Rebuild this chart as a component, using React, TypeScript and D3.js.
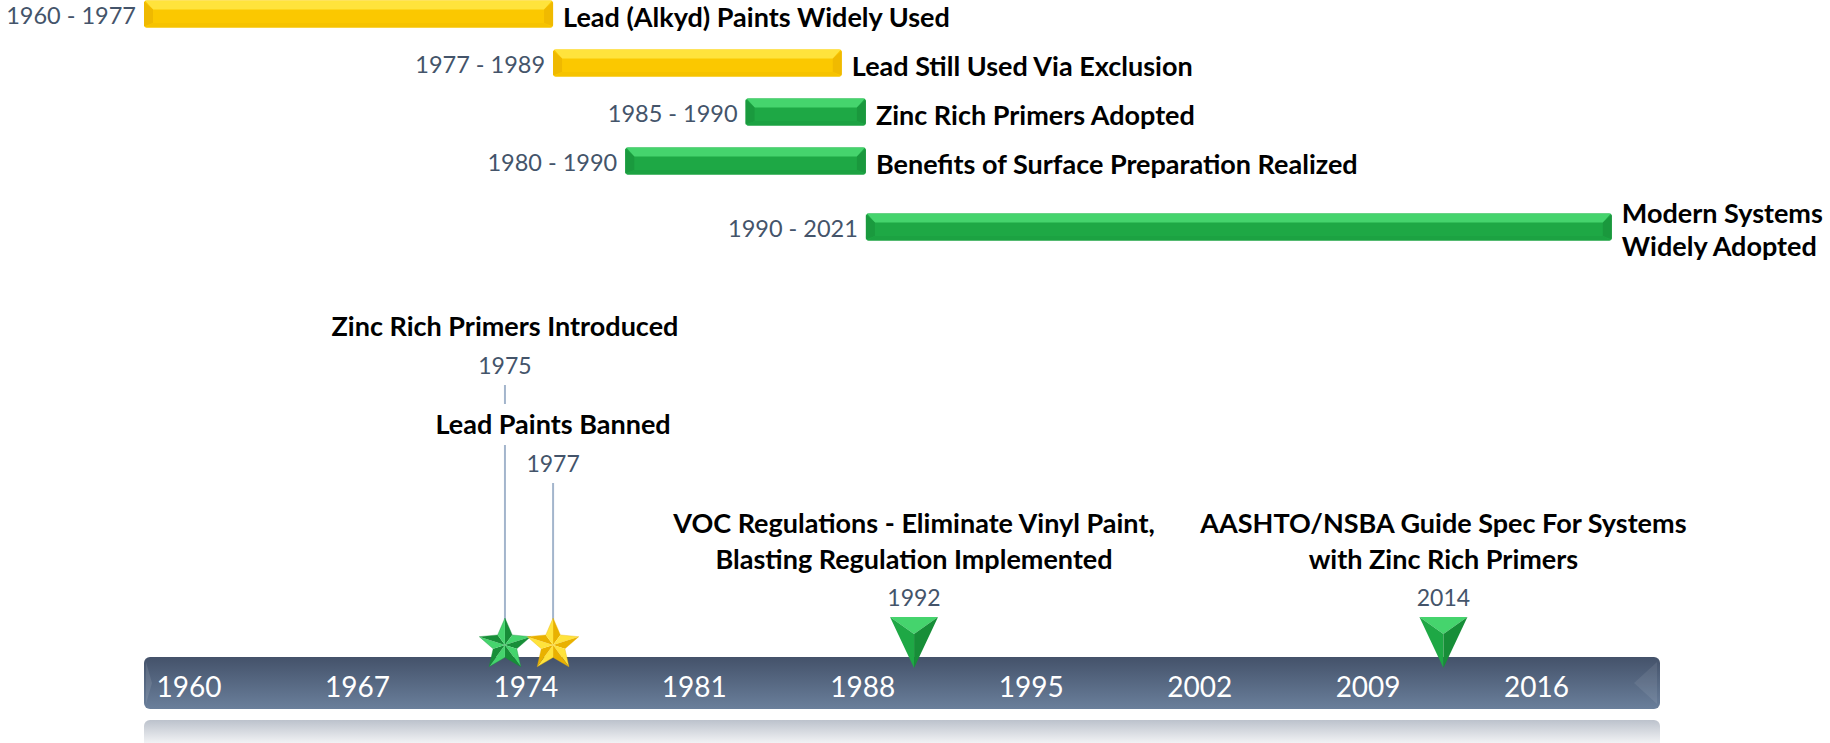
import React from 'react';
import * as d3 from 'd3';

// periods (bars across the top)
const periodLabels = [
  'Lead (Alkyd) Paints Widely Used',
  'Lead Still Used Via Exclusion',
  'Zinc Rich Primers Adopted',
  'Benefits of Surface Preparation Realized',
  'Modern Systems\nWidely Adopted',
];
const periodStarts = [1960, 1977, 1985, 1980, 1990];
const periodEnds = [1977, 1989, 1990, 1990, 2021];
const periodKinds = ['lead', 'lead', 'zinc', 'zinc', 'zinc'];

// single-year milestones on the axis
const eventYears = [1975, 1977, 1992, 2014];
const eventLabels = [
  'Zinc Rich Primers Introduced',
  'Lead Paints Banned',
  'VOC Regulations - Eliminate Vinyl Paint,\nBlasting Regulation Implemented',
  'AASHTO/NSBA Guide Spec For Systems\nwith Zinc Rich Primers',
];
const eventMarkers = ['star', 'star', 'triangle', 'triangle'];
const eventKinds = ['zinc', 'lead', 'zinc', 'zinc'];

const axisYears = [1960, 1967, 1974, 1981, 1988, 1995, 2002, 2009, 2016];

const W = 1830;
const H = 743;
const FONT = "Lato, 'Open Sans', sans-serif";
const SLATE = '#44546a';

const palette: Record<string, { light: string; main: string; side: string; low: string; dark: string }> = {
  lead: { light: '#ffe33c', main: '#fbc800', side: '#efb900', low: '#f6c300', dark: '#e9b100' },
  zinc: { light: '#45d46d', main: '#1ea845', side: '#1a9a3e', low: '#1ca242', dark: '#178e38' },
};

const x = d3.scaleLinear().domain([1960, 2023]).range([144, 1660]);

const BAR_H = 27;
const AXIS_Y = 657;
const AXIS_H = 52;
const TITLE_SIZE = 27;

const pts = (p: number[][]) => p.map((d) => d.join(',')).join(' ');

function BevelBar({ x0, x1, y, kind }: { x0: number; x1: number; y: number; kind: string }) {
  const c = palette[kind];
  const y0 = y;
  const y1 = y + BAR_H;
  const b = 9;
  return (
    <g>
      <rect x={x0} y={y0} width={x1 - x0} height={BAR_H} rx={3} fill={c.main} />
      <polygon points={pts([[x0 + 1, y0], [x1 - 1, y0], [x1 - b, y0 + b], [x0 + b, y0 + b]])} fill={c.light} />
      <polygon points={pts([[x0, y0 + 1], [x0 + b, y0 + b], [x0 + b, y1 - b / 2], [x0, y1 - 1]])} fill={c.side} />
      <polygon points={pts([[x1, y0 + 1], [x1 - b, y0 + b], [x1 - b, y1 - b / 2], [x1, y1 - 1]])} fill={c.dark} opacity={0.6} />
      <polygon points={pts([[x0 + 1, y1], [x0 + b, y1 - b / 2], [x1 - b, y1 - b / 2], [x1 - 1, y1]])} fill={c.low} />
    </g>
  );
}

function Star({ cx, cy, r, kind }: { cx: number; cy: number; r: number; kind: string }) {
  const c = palette[kind];
  const p = d3.range(10).map((i) => {
    const a = (-90 + i * 36) * (Math.PI / 180);
    const rr = i % 2 === 0 ? r : r * 0.46;
    return [cx + rr * Math.cos(a), cy + rr * Math.sin(a)];
  });
  return (
    <g>
      {p.map((pt, i) => {
        const nx = p[(i + 1) % 10];
        // one half of each arm is lit, the other is in shade
        const fill = i % 2 === 0 ? c.dark : c.light;
        return <polygon key={i} points={pts([[cx, cy], pt, nx])} fill={fill} />;
      })}
      <polygon points={pts(p)} fill="none" stroke={c.dark} strokeWidth={0.6} opacity={0.6} />
    </g>
  );
}

function Triangle({ cx, top, kind }: { cx: number; top: number; kind: string }) {
  const c = palette[kind];
  const a = [cx - 24, top];
  const b = [cx + 24, top];
  const t = [cx, top + 51];
  const g = [cx, top + 17];
  return (
    <g>
      <polygon points={pts([a, b, g])} fill={c.light} />
      <polygon points={pts([a, g, t])} fill={c.main} />
      <polygon points={pts([b, g, t])} fill={c.dark} />
    </g>
  );
}

export default function App() {
  // row layout: multi-line labels push their row (and following rows) down
  const lines = periodLabels.map((l) => l.split('\n'));
  const rowY: number[] = [];
  lines.forEach((ls, i) => {
    if (i === 0) rowY.push(14);
    else rowY.push(rowY[i - 1] + 49 + (ls.length - 1) * 17 + (lines[i - 1].length - 1) * 17);
  });

  // stars stacked: earlier stars get taller stems
  const starIdx = eventMarkers.map((m, i) => (m === 'star' ? i : -1)).filter((i) => i >= 0);
  const tierOf = (i: number) => starIdx.filter((j) => eventYears[j] > eventYears[i]).length;

  const axisX0 = x.range()[0];
  const axisX1 = x.range()[1];

  return (
    <svg width={W} height={H} style={{ position: 'absolute', left: 0, top: 0, background: '#fff' }} fontFamily={FONT}>
      <defs>
        <linearGradient id="axisGrad" x1="0" y1="0" x2="0" y2="1">
          <stop offset="0" stopColor="#44526a" />
          <stop offset="1" stopColor="#6a7f9b" />
        </linearGradient>
        <linearGradient id="reflGrad" x1="0" y1="0" x2="0" y2="1">
          <stop offset="0" stopColor="#bcc2cc" />
          <stop offset="1" stopColor="#ffffff" />
        </linearGradient>
      </defs>

      {/* period bars */}
      {periodLabels.map((lab, i) => {
        const cy = rowY[i];
        const x0 = x(periodStarts[i]);
        const x1 = x(periodEnds[i]);
        const ls = lines[i];
        return (
          <g key={lab}>
            <BevelBar x0={x0} x1={x1} y={cy - BAR_H / 2} kind={periodKinds[i]} />
            <text x={x0 - 8} y={cy + 1} textAnchor="end" dominantBaseline="central" fontSize={23.5} fill={SLATE}>
              {periodStarts[i]} - {periodEnds[i]}
            </text>
            {ls.map((l, k) => (
              <text
                key={k}
                x={x1 + 10}
                y={cy + 2 + (k - (ls.length - 1) / 2) * 33}
                dominantBaseline="central"
                fontSize={TITLE_SIZE}
                fontWeight={700}
                fill="#000"
              >
                {l}
              </text>
            ))}
          </g>
        );
      })}

      {/* axis bar */}
      <rect x={axisX0} y={AXIS_Y + AXIS_H + 11} width={axisX1 - axisX0} height={H - (AXIS_Y + AXIS_H + 11) + 6} rx={6} fill="url(#reflGrad)" />
      <rect x={axisX0} y={AXIS_Y} width={axisX1 - axisX0} height={AXIS_H} rx={6} fill="url(#axisGrad)" />
      <polygon
        points={pts([[axisX1 - 3, AXIS_Y + 5], [axisX1 - 26, AXIS_Y + AXIS_H / 2], [axisX1 - 3, AXIS_Y + AXIS_H - 5]])}
        fill="#ffffff"
        opacity={0.08}
      />
      <polygon
        points={pts([[axisX0 + 2, AXIS_Y + 5], [axisX0 + 8, AXIS_Y + AXIS_H / 2], [axisX0 + 2, AXIS_Y + AXIS_H - 5]])}
        fill="#ffffff"
        opacity={0.1}
      />
      {axisYears.map((yr) => (
        <text key={yr} x={x(yr) + 45} y={AXIS_Y + 29} textAnchor="middle" dominantBaseline="central" fontSize={28} fill="#fff">
          {yr}
        </text>
      ))}

      {/* milestones: stems first, then labels with white halo */}
      {eventYears.map((yr, i) => {
        if (eventMarkers[i] !== 'star') return null;
        const yearY = 463 - 98 * tierOf(i);
        return <line key={yr} x1={x(yr)} x2={x(yr)} y1={yearY + 20} y2={622} stroke="#a3b5cc" strokeWidth={2} />;
      })}
      {eventYears.map((yr, i) => {
        const cx = x(yr);
        const isStar = eventMarkers[i] === 'star';
        const yearY = isStar ? 463 - 98 * tierOf(i) : 597;
        const ls = eventLabels[i].split('\n');
        const lastY = isStar ? yearY - 40 : yearY - 39;
        return (
          <g key={yr}>
            {ls.map((l, k) => (
              <text
                key={k}
                x={cx}
                y={lastY - (ls.length - 1 - k) * 36}
                textAnchor="middle"
                dominantBaseline="central"
                fontSize={TITLE_SIZE}
                fontWeight={700}
                fill="#000"
                stroke="#fff"
                strokeWidth={isStar ? 22 : 0}
                strokeLinejoin="round"
                style={{ paintOrder: 'stroke' }}
              >
                {l}
              </text>
            ))}
            <text x={cx} y={yearY} textAnchor="middle" dominantBaseline="central" fontSize={23} fill={SLATE}>
              {yr}
            </text>
            {isStar ? (
              <Star cx={cx} cy={645} r={27} kind={eventKinds[i]} />
            ) : (
              <Triangle cx={cx} top={617} kind={eventKinds[i]} />
            )}
          </g>
        );
      })}
    </svg>
  );
}
